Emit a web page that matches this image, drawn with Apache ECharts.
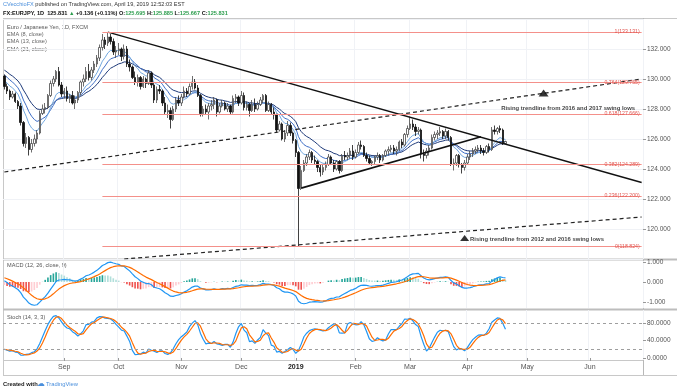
<!DOCTYPE html>
<html><head><meta charset="utf-8">
<script src="https://cdn.jsdelivr.net/npm/echarts@6/dist/echarts.min.js"></script>
<style>html,body{margin:0;padding:0;background:#fff}#c{width:680px;height:391px}</style>
</head><body><div id="c"></div>
<script>
// ---------- calendar ----------
const firstDay = '2018-08-02';
const lastDay = '2019-06-28';
const holidays = ['2018-12-25', '2019-01-01'];

// ---------- price data (EUR/JPY daily) ----------
const open = [130.2,129.5,129.2,128.8,129.0,128.5,128.2,127.1,125.7,126.1,
125.3,125.7,126.0,126.4,127.7,128.0,128.1,128.9,129.7,130.0,
130.5,129.6,129.0,129.2,128.7,128.9,128.4,128.6,129.1,129.8,
130.0,130.5,130.1,130.6,131.0,131.4,132.1,132.6,132.4,132.8,
132.5,131.8,131.9,132.0,131.5,132.0,131.0,130.8,130.1,129.8,
130.1,129.5,130.0,129.7,130.4,129.6,128.6,129.3,129.2,128.4,
127.8,127.9,127.3,128.0,128.6,128.4,128.8,129.2,129.0,129.5,
129.8,129.4,128.9,127.7,128.0,127.8,128.2,128.3,128.6,127.8,
128.2,128.4,128.0,128.2,127.8,128.7,128.8,128.4,128.9,128.1,
128.3,127.9,128.3,128.0,128.3,128.6,128.9,127.9,128.3,127.8,
127.6,126.6,127.0,126.0,126.4,126.9,126.4,125.9,125.1,122.7,
123.9,124.4,124.8,125.1,124.6,124.5,124.1,123.8,124.1,124.3,
124.8,124.4,124.0,124.5,123.9,124.9,124.8,124.9,125.2,124.8,
125.1,125.6,125.5,124.9,124.7,124.4,124.5,124.8,124.9,124.6,
124.9,125.2,125.3,125.4,125.2,125.3,125.8,125.6,126.3,126.7,
127.0,126.8,126.5,126.6,125.0,124.9,125.2,125.4,126.1,126.3,
126.4,126.5,126.2,126.5,126.1,124.3,124.4,124.9,124.3,124.1,
124.4,124.8,125.0,125.2,125.3,125.4,125.2,125.1,125.5,125.3,
126.6,126.5,126.7,126.6,125.695];
const high = [130.3,129.7,129.3,129.2,129.1,128.6,128.4,127.2,126.4,126.2,
126.0,126.3,126.6,127.9,128.3,128.4,129.0,129.9,130.2,130.6,
130.8,129.8,129.4,129.5,129.0,129.2,128.9,129.2,129.9,130.3,
130.8,131.0,130.8,131.2,131.6,132.3,133.0,132.8,133.13,133.0,
132.7,132.2,132.4,132.1,132.3,132.2,131.3,130.9,130.5,130.3,
130.2,130.2,130.1,130.6,130.5,129.8,129.5,129.6,129.3,128.8,
128.3,128.1,128.2,128.8,128.9,129.0,129.5,129.4,129.7,130.2,
130.0,129.6,129.0,128.2,128.3,128.4,128.6,128.8,128.7,128.4,
128.6,128.5,128.4,128.3,128.9,129.0,128.9,129.2,129.1,128.5,
128.4,128.6,128.7,128.5,128.8,129.0,129.0,128.5,128.4,128.1,
127.7,127.2,127.1,126.6,127.2,127.1,126.5,126.0,125.2,124.2,
124.6,125.0,125.3,125.2,124.9,124.6,124.3,124.3,124.5,125.0,
124.9,124.6,124.6,124.6,125.0,125.2,125.1,125.4,125.6,125.3,
125.8,125.9,125.6,125.1,124.9,124.6,124.9,125.1,125.0,125.0,
125.3,125.5,125.6,125.6,125.5,125.9,126.0,126.4,126.9,127.5,
127.3,127.0,126.8,126.7,125.3,125.4,125.6,126.3,126.5,126.6,
126.8,126.6,126.7,126.6,126.2,124.7,125.0,125.0,124.4,124.6,
125.0,125.2,125.4,125.5,125.6,125.6,125.4,125.6,125.7,126.8,
126.9,126.8,126.9,126.7,125.885];
const low = [129.3,129.0,128.6,128.7,128.4,128.0,126.9,125.5,125.4,124.9,
125.1,125.5,125.7,126.3,127.6,127.7,128.0,128.8,129.5,129.8,
129.5,128.8,128.7,128.5,128.4,128.3,128.0,128.4,128.9,129.5,
129.8,129.9,129.9,130.4,130.8,131.2,131.9,132.0,132.2,132.3,
131.6,131.4,131.6,131.2,131.3,130.8,130.5,130.0,129.6,129.5,
129.3,129.4,129.4,129.6,129.4,128.4,128.4,129.0,128.2,127.6,
127.4,126.7,127.2,127.8,128.2,128.2,128.7,128.8,128.9,129.3,
129.3,128.8,127.5,127.5,127.6,127.3,127.9,128.0,127.5,127.7,
128.1,127.9,127.8,127.6,127.7,128.4,128.2,128.3,127.9,127.9,
127.5,127.8,127.8,127.9,128.2,128.4,127.8,127.8,127.6,127.3,
126.4,126.5,125.9,125.8,126.2,126.2,125.7,124.8,118.82,122.6,
123.8,124.2,124.6,124.4,124.3,123.8,123.5,123.6,123.9,124.2,
124.3,123.8,123.9,123.7,123.8,124.6,124.6,124.7,124.6,124.7,
125.0,125.3,124.8,124.5,124.3,124.2,124.3,124.6,124.4,124.5,
124.8,124.9,125.1,125.0,124.9,125.2,125.4,125.5,126.1,126.6,
126.6,126.2,126.3,124.7,124.5,124.7,124.9,125.3,125.9,126.0,
126.2,126.0,126.0,125.9,124.2,123.9,124.2,124.1,123.7,123.9,
124.3,124.6,124.8,125.0,125.1,125.0,124.9,125.0,125.1,125.2,
126.3,126.3,126.4,125.6,125.667];
const close = [129.5,129.2,128.8,129.0,128.5,128.2,127.1,125.7,126.1,125.3,
125.7,126.0,126.4,127.7,128.0,128.1,128.9,129.7,130.0,130.5,
129.6,129.0,129.2,128.7,128.9,128.4,128.6,129.1,129.8,130.0,
130.5,130.1,130.6,131.0,131.4,132.1,132.6,132.3,132.8,132.5,
131.8,131.9,132.0,131.5,132.0,131.0,130.8,130.1,129.8,130.1,
129.5,130.0,129.7,130.4,129.6,128.6,129.3,129.2,128.4,127.8,
127.9,127.3,128.0,128.6,128.4,128.8,129.2,129.0,129.5,129.8,
129.4,128.9,127.7,128.0,127.8,128.2,128.3,128.6,127.8,128.2,
128.4,128.0,128.2,127.8,128.7,128.8,128.4,128.9,128.1,128.3,
127.9,128.3,128.0,128.3,128.6,128.9,127.9,128.3,127.8,127.6,
126.6,127.0,126.0,126.4,126.9,126.4,125.9,125.1,122.7,123.9,
124.4,124.8,125.1,124.6,124.5,124.1,123.8,124.1,124.3,124.8,
124.4,124.0,124.5,123.9,124.9,124.8,124.9,125.2,124.8,125.1,
125.6,125.5,124.9,124.7,124.4,124.5,124.8,124.9,124.6,124.9,
125.2,125.3,125.4,125.2,125.3,125.8,125.6,126.3,126.7,127.0,
126.8,126.5,126.6,125.0,124.9,125.2,125.4,126.1,126.3,126.4,
126.5,126.2,126.5,126.1,124.3,124.4,124.9,124.3,124.1,124.4,
124.8,125.0,125.2,125.3,125.4,125.2,125.1,125.5,125.3,126.6,
126.5,126.7,126.6,125.695,125.831];

// indicator settings + starting states
const emaPeriods = [8, 13, 21];
const emaSeeds = [130.0, 130.4, 130.7];
const macdSeeds = [130.45, 130.3, 0.25];   // EMA12, EMA26, signal before first bar

// Fibonacci retracement levels
const fibLabels = ['1(133.131)', '0.764(129.755)', '0.618(127.666)', '0.382(124.289)', '0.236(122.200)', '0(118.824)'];
const fibValues = [133.131, 129.755, 127.666, 124.289, 122.200, 118.824];
const fibStart = 36;

// trendlines: [startIndex, startValue, endIndex, endValue]
const downTrend = [38, 133.13, 234, 123.1];
const triangleSupport = [109, 122.73, 175, 126.15];
const rise1617 = [0, 123.8, 234, 130.0];
const rise1216 = [44, 118.0, 234, 120.8];

// annotations
const note1 = {text: 'Rising trendline from 2016 and 2017 swing lows', arrowIdx: 198, arrowVal: 129.07, textIdx: 207, textVal: 128.07};
const note2 = {text: 'Rising trendline from 2012 and 2016 swing lows', arrowIdx: 169, arrowVal: 119.4, textIdx: 171, textVal: 119.33};
const lastPrice = 125.831;
const monthNames = ['Jan','Feb','Mar','Apr','May','Jun','Jul','Aug','Sep','Oct','Nov','Dec'];

// ---------- build ----------
const dates = [];
{
  let t = Date.parse(firstDay + 'T00:00:00Z'); const end = Date.parse(lastDay + 'T00:00:00Z');
  while (t <= end) { const d = new Date(t); const w = d.getUTCDay(); const s = d.toISOString().slice(0,10);
    if (w !== 0 && w !== 6 && holidays.indexOf(s) < 0) dates.push(s); t += 86400000; }
}
const candles = close.map((c,i)=>[open[i], c, low[i], high[i]]);
function ema(src, n, seed){ const k = 2/(n+1); let e = seed; return src.map(v => (e = v*k + e*(1-k))); }
const emaLines = emaPeriods.map((p,j)=>ema(close, p, emaSeeds[j]));
const e12 = ema(close, 12, macdSeeds[0]), e26 = ema(close, 26, macdSeeds[1]);
const macd = e12.map((v,i)=>v - e26[i]);
const signal = ema(macd, 9, macdSeeds[2]);
const hist = macd.map((v,i)=>v - signal[i]);
const histData = hist.map((v,i)=>{
  const p = i>0 ? hist[i-1] : v;
  let col = v >= 0 ? (v >= p ? '#26a69a' : '#b2dfdb') : (v < p ? '#ef5350' : '#ffcdd2');
  return {value: v, itemStyle: {color: col}};
});
const rawK = close.map((c,i)=>{ let hh=-Infinity, ll=Infinity; for (let j=Math.max(0,i-13); j<=i; j++){ hh=Math.max(hh,high[j]); ll=Math.min(ll,low[j]); } return hh>ll ? (c-ll)/(hh-ll)*100 : 50; });
const sma = (a,n)=>a.map((v,i)=>{ const s=Math.max(0,i-n+1); let t=0; for(let j=s;j<=i;j++) t+=a[j]; return t/(i-s+1); });
const stochK = sma(rawK, 3), stochD = sma(stochK, 3);

const isMonthStart = (i)=> i>0 && dates[i].slice(0,7) !== dates[i-1].slice(0,7);
const FONT = 'Liberation Sans, Arial, sans-serif';
const gridCol = '#f0f2f6';

const fibMarks = fibValues.map((v,k)=>[
  {coord:[dates[fibStart], v], label:{show:true, formatter: fibLabels[k], position:'insideEnd', distance:2, color:'#e05550', fontSize:5.2, fontFamily:FONT}},
  {coord:[dates[dates.length-1], v]}
]);

function seg(s){ return [[dates[s[0]], s[1]], [dates[s[2]], s[3]]]; }

function xAxisCfg(g, showLabels){
  return {
    type:'category', gridIndex:g, data:dates, boundaryGap:true,
    axisLine:{show:false},
    axisTick:{show:showLabels, interval:(i)=>isMonthStart(i), alignWithLabel:true, length:3, lineStyle:{color:'#999'}},
    axisLabel:{show:showLabels, interval:(i)=>isMonthStart(i), margin:4, color:'#555', fontSize:7, fontFamily:FONT,
      formatter:(v)=>{ const m=+v.slice(5,7); return m===1 ? '{y|'+v.slice(0,4)+'}' : monthNames[m-1]; },
      rich:{y:{fontWeight:'bold', color:'#222', fontSize:7, fontFamily:FONT}}},
    splitLine:{show:true, interval:(i)=>isMonthStart(i), lineStyle:{color:gridCol, width:1}}
  };
}

const option = {
  animation:false,
  backgroundColor:'#ffffff',
  grid:[
    {left:3, right:37, top:19, height:240},
    {left:3, right:37, top:261, height:47},
    {left:3, right:37, top:310, height:50}
  ],
  xAxis:[xAxisCfg(0,false), xAxisCfg(1,false), xAxisCfg(2,true)],
  yAxis:[
    {gridIndex:0, position:'right', min:118, max:134, interval:2,
      axisLine:{show:false}, axisTick:{show:true, length:3, lineStyle:{color:'#999'}},
      axisLabel:{showMinLabel:false, showMaxLabel:false, formatter:(v)=>v.toFixed(3), color:'#555', fontSize:6.5, fontFamily:FONT, margin:4},
      splitLine:{show:true, lineStyle:{color:gridCol}}},
    {gridIndex:1, position:'right', min:-1.3, max:1.05,
      axisLine:{show:false}, axisTick:{show:true, length:3, customValues:[-1,0,1], lineStyle:{color:'#999'}},
      axisLabel:{customValues:[-1,0,1], formatter:(v)=>v.toFixed(3), color:'#555', fontSize:6.5, fontFamily:FONT, margin:4},
      splitLine:{show:false}},
    {gridIndex:2, position:'right', min:-4.6, max:109.7,
      axisLine:{show:false}, axisTick:{show:true, length:3, customValues:[0,40,80], lineStyle:{color:'#999'}},
      axisLabel:{customValues:[0,40,80], formatter:(v)=>v.toFixed(4), color:'#555', fontSize:6.5, fontFamily:FONT, margin:4},
      splitLine:{show:false}}
  ],
  series:[
    {type:'line', name:'EMA21', xAxisIndex:0, yAxisIndex:0, data:emaLines[2], symbol:'none', lineStyle:{color:'#1f3b7a', width:1}, z:2},
    {type:'line', name:'EMA13', xAxisIndex:0, yAxisIndex:0, data:emaLines[1], symbol:'none', lineStyle:{color:'#3f6fc6', width:1}, z:2},
    {type:'line', name:'EMA8', xAxisIndex:0, yAxisIndex:0, data:emaLines[0], symbol:'none', lineStyle:{color:'#74a9e0', width:1}, z:2},
    {type:'candlestick', xAxisIndex:0, yAxisIndex:0, data:candles, barWidth:'70%', z:3,
      itemStyle:{color:'#ffffff', color0:'#111111', borderColor:'#4a4a4a', borderColor0:'#111111', borderWidth:0.8},
      markLine:{silent:true, symbol:['none','none'], animation:false,
        lineStyle:{color:'#f4908a', width:1, type:'solid'},
        data: fibMarks.concat([{yAxis:lastPrice, lineStyle:{opacity:0},
          label:{show:true, position:'end', distance:1, formatter:lastPrice.toFixed(3), color:'#fff', backgroundColor:'#ff1d1d', padding:[3,6,2,5], fontSize:6.5, fontFamily:FONT}}])}},
    {type:'line', xAxisIndex:0, yAxisIndex:0, data:seg(downTrend), symbol:'none', lineStyle:{color:'#111', width:1.3}, z:4},
    {type:'line', xAxisIndex:0, yAxisIndex:0, data:seg(triangleSupport), symbol:'none', lineStyle:{color:'#111', width:1.8}, z:4},
    {type:'line', xAxisIndex:0, yAxisIndex:0, data:seg(rise1617), symbol:'none', lineStyle:{color:'#222', width:1.2, type:[4,3]}, z:4},
    {type:'line', xAxisIndex:0, yAxisIndex:0, data:seg(rise1216), symbol:'none', lineStyle:{color:'#222', width:1.2, type:[4,3]}, z:4},
    {type:'scatter', xAxisIndex:0, yAxisIndex:0, z:5, silent:true,
      data:[
        {value:[dates[note1.arrowIdx], note1.arrowVal], symbol:'triangle', symbolSize:[10,7], itemStyle:{color:'#000'}},
        {value:[dates[note2.arrowIdx], note2.arrowVal], symbol:'triangle', symbolSize:[9,6], itemStyle:{color:'#000'}},
        {value:[dates[note1.textIdx], note1.textVal], symbolSize:0, label:{show:true, position:'inside', formatter:note1.text, color:'#111', fontWeight:'bold', fontSize:5.9, fontFamily:FONT}},
        {value:[dates[note2.textIdx], note2.textVal], symbolSize:0, label:{show:true, position:'right', distance:0, formatter:note2.text, color:'#111', fontWeight:'bold', fontSize:5.9, fontFamily:FONT}}
      ]},
    {type:'bar', xAxisIndex:1, yAxisIndex:1, data:histData, barWidth:'60%'},
    {type:'line', xAxisIndex:1, yAxisIndex:1, data:macd, symbol:'none', lineStyle:{color:'#2196f3', width:1.2}},
    {type:'line', xAxisIndex:1, yAxisIndex:1, data:signal, symbol:'none', lineStyle:{color:'#ff6d00', width:1.2}},
    {type:'line', xAxisIndex:2, yAxisIndex:2, data:stochK, symbol:'none', lineStyle:{color:'#2196f3', width:1.2},
      markLine:{silent:true, symbol:['none','none'], label:{show:false}, lineStyle:{color:'#9e9e9e', type:[3,3], width:1}, data:[{yAxis:80},{yAxis:20}]}},
    {type:'line', xAxisIndex:2, yAxisIndex:2, data:stochD, symbol:'none', lineStyle:{color:'#ff6d00', width:1.2}}
  ],
  graphic:[
    {type:'text', left:3, top:1, style:{text:'{a|CVecchioFX} published on TradingView.com, April 19, 2019 12:52:03 EST', fill:'#333', fontSize:5.6, fontFamily:FONT, rich:{a:{fill:'#4a8fdc', fontSize:5.6, fontFamily:FONT}}}},
    {type:'text', left:3, top:10, style:{text:'FX:EURJPY, 1D  125.831 {g|▲} +0.136 (+0.11%) O:{g|125.695} H:{g|125.885} L:{g|125.667} C:{g|125.831}', fill:'#111', fontSize:5.6, fontWeight:'bold', fontFamily:FONT, rich:{g:{fill:'#2e9e4f', fontSize:5.6, fontWeight:'bold', fontFamily:FONT}}}},
    {type:'text', left:7, top:24, style:{text:'Euro / Japanese Yen, 1D, FXCM', fill:'#555', fontSize:5.6, fontFamily:FONT}},
    {type:'text', left:7, top:31, style:{text:'EMA (8, close)', fill:'#666', fontSize:5.6, fontFamily:FONT}},
    {type:'text', left:7, top:38.5, style:{text:'EMA (13, close)', fill:'#666', fontSize:5.6, fontFamily:FONT}},
    {type:'text', left:7, top:46, style:{text:'EMA (21, close)', fill:'#666', fontSize:5.6, fontFamily:FONT}},
    {type:'text', left:7, top:262, style:{text:'MACD (12, 26, close, 9)', fill:'#555', fontSize:5.6, fontFamily:FONT}},
    {type:'text', left:7, top:314, style:{text:'Stoch (14, 3, 3)', fill:'#555', fontSize:5.6, fontFamily:FONT}},
    {type:'text', left:3, top:381, style:{text:'Created with', fill:'#222', fontSize:5.8, fontWeight:'bold', fontFamily:FONT}},
    {type:'text', left:37, top:380, style:{text:'☁', fill:'#4a8fdc', fontSize:8, fontFamily:'DejaVu Sans'}},
    {type:'text', left:46, top:381, style:{text:'TradingView', fill:'#4a8fdc', fontSize:5.8, fontFamily:FONT}},
    {type:'line', shape:{x1:3, y1:18.5, x2:677, y2:18.5}, style:{stroke:'#c8c8c8', lineWidth:1}},
    {type:'line', shape:{x1:3.5, y1:18, x2:3.5, y2:375}, style:{stroke:'#c8c8c8', lineWidth:1}},
    {type:'line', shape:{x1:643.5, y1:18, x2:643.5, y2:375}, style:{stroke:'#b8b8b8', lineWidth:1}},
    {type:'line', shape:{x1:3, y1:259.5, x2:677, y2:259.5}, style:{stroke:'#bdbdbd', lineWidth:2}},
    {type:'line', shape:{x1:3, y1:309.5, x2:677, y2:309.5}, style:{stroke:'#bdbdbd', lineWidth:2}},
    {type:'line', shape:{x1:3, y1:360.5, x2:643, y2:360.5}, style:{stroke:'#c8c8c8', lineWidth:1}},
    {type:'line', shape:{x1:3, y1:375.5, x2:677, y2:375.5}, style:{stroke:'#c8c8c8', lineWidth:1}}
  ]
};
const chart = echarts.init(document.getElementById('c'), null, {renderer:'canvas', width:680, height:391});
chart.setOption(option);
</script>
</body></html>
